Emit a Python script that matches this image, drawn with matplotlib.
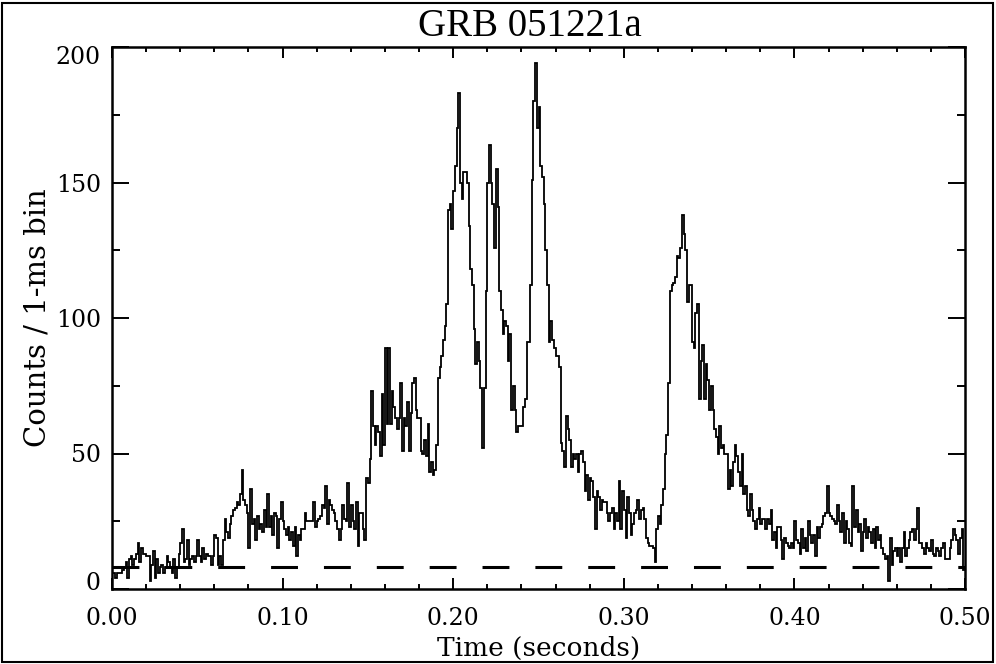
import numpy as np
import matplotlib
matplotlib.use('Agg')
import matplotlib.pyplot as plt
from matplotlib.patches import Rectangle
from matplotlib.transforms import ScaledTranslation

# counts per 1-ms bin, 0.000 .. 0.499 s
counts_a = [6, 6, 4, 6, 6, 6, 7, 8, 10, 4,
            11, 12, 9, 11, 13, 17, 10, 15, 13, 13,
            12, 12, 3, 9, 14, 4, 11, 6, 8, 9,
            6, 8, 12, 10, 8, 6, 11, 4, 8, 13,
            17, 22, 10, 11, 18, 9, 11, 12, 10, 12,
            18, 12, 10, 15, 11, 13, 12, 12, 9, 12,
            20, 19, 9, 12, 9, 18, 26, 21, 19, 24,
            27, 29, 30, 32, 31, 35, 44, 33, 31, 28,
            15, 37, 24, 26, 18, 27, 22, 24, 21, 29,
            23, 35, 23, 27, 20, 28, 27, 15, 26, 32]
counts_b = [25, 22, 20, 23, 18, 21, 16, 23, 12, 20,
            18, 22, 22, 28, 25, 25, 25, 25, 32, 23,
            25, 26, 27, 31, 30, 38, 24, 33, 31, 29,
            28, 25, 22, 18, 22, 31, 26, 25, 39, 23,
            31, 25, 22, 32, 16, 28, 28, 22, 18, 41,
            39, 48, 73, 60, 53, 60, 58, 49, 72, 53,
            89, 61, 89, 61, 73, 67, 63, 59, 63, 76,
            51, 63, 60, 69, 51, 65, 76, 78, 66, 63,
            63, 51, 50, 55, 49, 61, 43, 47, 42, 44,
            53, 78, 82, 86, 92, 97, 105, 140, 142, 133]
counts_c = [147, 156, 170, 183, 150, 144, 154, 154, 150, 134,
            118, 112, 96, 83, 91, 84, 74, 52, 74, 110,
            150, 164, 150, 142, 126, 155, 141, 110, 103, 94,
            99, 97, 84, 94, 66, 75, 66, 58, 60, 60,
            60, 67, 70, 91, 91, 112, 151, 180, 194, 170,
            178, 156, 152, 142, 125, 112, 91, 99, 92, 89,
            86, 86, 82, 54, 51, 45, 64, 59, 55, 45,
            50, 48, 50, 43, 50, 51, 47, 36, 42, 33,
            41, 40, 34, 22, 36, 34, 29, 33, 32, 32,
            28, 25, 28, 30, 22, 28, 25, 40, 22, 36]
counts_d = [29, 19, 34, 28, 20, 24, 28, 29, 33, 26,
            29, 30, 26, 19, 17, 16, 16, 15, 10, 22,
            27, 24, 31, 37, 50, 57, 76, 110, 112, 113,
            115, 123, 122, 126, 138, 131, 125, 106, 112, 112,
            91, 89, 102, 105, 70, 84, 90, 70, 83, 77,
            66, 75, 66, 59, 56, 50, 60, 52, 53, 50,
            50, 37, 44, 38, 47, 53, 49, 43, 38, 50,
            35, 38, 29, 27, 35, 29, 25, 22, 26, 30,
            24, 26, 26, 22, 26, 24, 29, 18, 21, 15,
            23, 23, 18, 11, 19, 17, 16, 15, 17, 15]
counts_e = [25, 18, 17, 13, 22, 15, 19, 14, 25, 20,
            17, 20, 12, 23, 19, 23, 24, 27, 28, 38,
            28, 27, 26, 25, 24, 31, 25, 21, 28, 17,
            25, 22, 17, 16, 38, 23, 29, 21, 24, 14,
            21, 26, 19, 23, 21, 17, 22, 15, 23, 18,
            20, 15, 13, 11, 12, 3, 19, 9, 14, 15,
            12, 15, 10, 15, 21, 12, 15, 18, 21, 22,
            18, 22, 30, 17, 17, 15, 13, 17, 15, 14,
            18, 13, 12, 15, 14, 12, 15, 17, 11, 11,
            11, 15, 18, 22, 20, 18, 13, 19, 22, 7]
counts = counts_a + counts_b + counts_c + counts_d + counts_e

background = 8
bin_width = 0.001
title = 'GRB 051221a'
xticks = [0.0, 0.1, 0.2, 0.3, 0.4, 0.5]
yticks = [0, 50, 100, 150, 200]

serif = ['DejaVu Serif']

fig = plt.figure(figsize=(9.96, 6.64), dpi=100)
ax = fig.add_axes([112 / 996, 1 - 589 / 664, (965 - 112) / 996, (589 - 47) / 664])

edges = np.arange(len(counts) + 1) * bin_width
ax.stairs(counts, edges, baseline=None, color='black', linewidth=1.3, zorder=3)
ax.plot([0, 0.5], [background, background], color='black', linewidth=2.2,
        linestyle=(0, (8.8, 8.5)), zorder=2)

ax.set_xlim(0, 0.5)
ax.set_ylim(0, 200)
ax.set_xticks(xticks)
ax.set_xticklabels([f'{v:.2f}' for v in xticks])
ax.set_xticks(np.arange(0, 0.501, 0.02), minor=True)
ax.set_yticks(yticks)
ax.set_yticklabels([str(v) for v in yticks])
ax.set_yticks(np.arange(0, 201, 25), minor=True)

ax.tick_params(axis='both', which='both', direction='in', top=True, right=True,
               width=1.4, colors='black')
ax.tick_params(axis='x', which='major', length=7.8, pad=13)
ax.tick_params(axis='x', which='minor', length=3.9)
ax.tick_params(axis='y', which='major', length=12.3, pad=8)
ax.tick_params(axis='y', which='minor', length=6.1)
for lab in ax.get_xticklabels() + ax.get_yticklabels():
    lab.set_family(serif)
    lab.set_fontsize(17)
for s in ax.spines.values():
    s.set_linewidth(1.8)

# end labels on the y axis sit a little inside the frame
ylabs = ax.get_yticklabels()
ylabs[0].set_transform(ylabs[0].get_transform() + ScaledTranslation(0, 8 / 100, fig.dpi_scale_trans))
ylabs[-1].set_transform(ylabs[-1].get_transform() + ScaledTranslation(0, -8 / 100, fig.dpi_scale_trans))

ax.set_xlabel('Time (seconds)', family=serif, fontsize=19, labelpad=4)
ax.set_ylabel('Counts / 1-ms bin', family=serif, fontsize=21, labelpad=3)
ax.set_title(title, family=['Liberation Serif'], fontsize=28, pad=8, x=0.49)

fig.patches.append(Rectangle((2 / 996, 2 / 664), 991 / 996, 659 / 664,
                             transform=fig.transFigure, fill=False,
                             edgecolor='black', linewidth=1.5))

fig.savefig('out.png', dpi=100)
